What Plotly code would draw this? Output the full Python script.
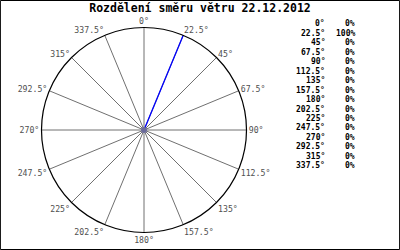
import plotly.graph_objects as go

title = "Rozdělení směru větru 22.12.2012"
directions = [0, 22.5, 45, 67.5, 90, 112.5, 135, 157.5, 180, 202.5, 225, 247.5, 270, 292.5, 315, 337.5]
dir_labels = ["0°", "22.5°", "45°", "67.5°", "90°", "112.5°", "135°", "157.5°", "180°",
              "202.5°", "225°", "247.5°", "270°", "292.5°", "315°", "337.5°"]
percent = [0, 100, 0, 0, 0, 0, 0, 0, 0, 0, 0, 0, 0, 0, 0, 0]

fig = go.Figure()

# wind direction rays (from centre to percentage)
for d, p in zip(directions, percent):
    if p > 0:
        fig.add_trace(go.Scatterpolar(r=[0, p], theta=[d, d], mode="lines",
                                      line=dict(color="#0000ff", width=1.3),
                                      showlegend=False, hoverinfo="skip"))

# centre dot
fig.add_trace(go.Scatterpolar(r=[0], theta=[0], mode="markers",
                              marker=dict(color="#6a6a9a", size=6),
                              showlegend=False, hoverinfo="skip"))

mono = "DejaVu Sans Mono"

fig.update_layout(
    width=400, height=250,
    margin=dict(l=0, r=0, t=0, b=0),
    paper_bgcolor="white",
    plot_bgcolor="white",
    showlegend=False,
    title=dict(text=title, x=0.5, xanchor="center", y=0.968, yanchor="middle",
               font=dict(family=mono, size=11.5, color="black", weight="bold")),
    polar=dict(
        domain=dict(x=[0.10375, 0.61625], y=[0.07, 0.89]),
        bgcolor="white",
        radialaxis=dict(range=[0, 100], showgrid=False, showline=False,
                        showticklabels=False, ticks=""),
        angularaxis=dict(direction="clockwise", rotation=90,
                         tickmode="array", tickvals=directions, ticktext=dir_labels,
                         showgrid=True, gridcolor="#707070", gridwidth=1,
                         showline=True, linecolor="black", linewidth=1.2,
                         ticks="",
                         tickfont=dict(family=mono, size=8.2, color="#505050")),
    ),
    shapes=[dict(type="rect", xref="paper", yref="paper", x0=0.001, x1=0.999,
                 y0=0.002, y1=0.998, line=dict(color="black", width=1))],
)

row0 = 24
step = 9.45
annotations = []
for i, (lab, p) in enumerate(zip(dir_labels, percent)):
    y = 1 - (row0 + i * step) / 250
    annotations.append(dict(text=lab, x=327 / 400, y=y, xref="paper", yref="paper",
                            xanchor="right", yanchor="middle", showarrow=False,
                            font=dict(family=mono, size=8, color="black", weight="bold")))
    annotations.append(dict(text=f"{p}%", x=357 / 400, y=y, xref="paper", yref="paper",
                            xanchor="right", yanchor="middle", showarrow=False,
                            font=dict(family=mono, size=8, color="black", weight="bold")))
fig.update_layout(annotations=annotations)

fig.write_html("out.html")
